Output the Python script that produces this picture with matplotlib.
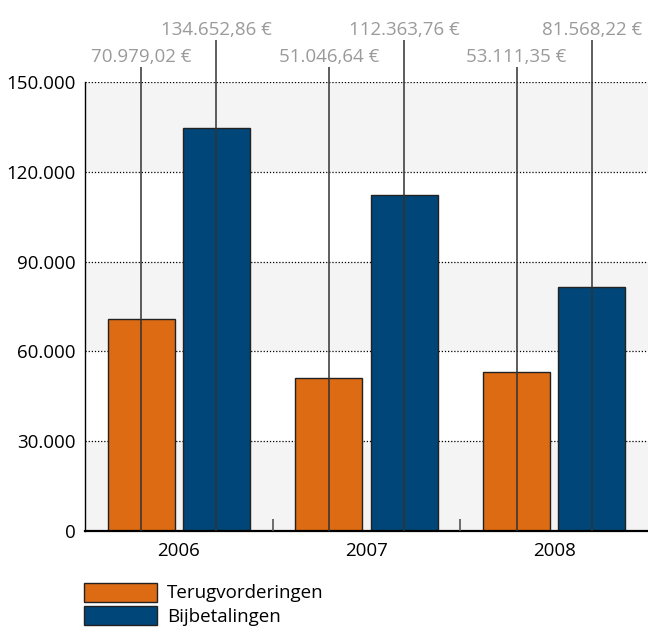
import matplotlib
matplotlib.use("Agg")
import matplotlib.pyplot as plt
from matplotlib.patches import Patch
import numpy as np

years = ["2006", "2007", "2008"]
terug = [70979.02, 51046.64, 53111.35]
bijbet = [134652.86, 112363.76, 81568.22]
series_names = ["Terugvorderingen", "Bijbetalingen"]
yticks = [0, 30000, 60000, 90000, 120000, 150000]

orange = "#dc6b14"
blue = "#004678"
band = "#f4f4f4"
labgray = "#9a9a9a"

plt.rcParams['font.family'] = ['Open Sans', 'DejaVu Sans']
FS = 13.5

def fmt_nl(v, dec=2):
    s = f"{v:,.{dec}f}"
    return s.replace(",", "X").replace(".", ",").replace("X", ".")

fig = plt.figure(figsize=(6.48, 6.30), dpi=100)
ax = fig.add_axes([85/648, 1-531/630, 1-85/648, (531-82)/630])

x = np.arange(len(years))
off = 0.2
w = 0.357
ymax = 150000
ax.set_xlim(-0.5, len(years)-0.5)
ax.set_ylim(0, ymax)

# alternating bands
for i in range(len(yticks)-1):
    if i % 2 == 0:
        ax.axhspan(yticks[i], yticks[i+1], color=band, zorder=0, lw=0)
for t in yticks[1:]:
    ax.axhline(t, color="black", lw=0.9, ls=(0, (1, 1.5)), zorder=1)

ax.bar(x-off, terug, w, color=orange, edgecolor="#222222", lw=1.0, zorder=2)
ax.bar(x+off, bijbet, w, color=blue, edgecolor="#222222", lw=1.0, zorder=2)

top_o = ymax*1.033
top_b = ymax*1.093
ax.vlines(x-off, 0, top_o, colors="#333333", lw=1.3, alpha=0.85, zorder=3, clip_on=False)
ax.vlines(x+off, 0, top_b, colors="#333333", lw=1.3, alpha=0.85, zorder=3, clip_on=False)
for xi, v in zip(x-off, terug):
    ax.text(xi, top_o+ymax*0.003, fmt_nl(v)+" €", ha="center", va="bottom",
            color=labgray, fontsize=FS, clip_on=False)
for xi, v in zip(x+off, bijbet):
    ax.text(xi, top_b+ymax*0.003, fmt_nl(v)+" €", ha="center", va="bottom",
            color=labgray, fontsize=FS, clip_on=False)

ax.set_yticks(yticks)
ax.set_yticklabels([fmt_nl(t, 0) for t in yticks], fontsize=FS)
ax.tick_params(axis="y", length=0, pad=7)
ax.set_xticks(x)
ax.set_xticklabels(years, fontsize=FS)
ax.tick_params(axis="x", which="major", length=0, pad=8)
ax.set_xticks(x[:-1]+0.5, minor=True)
ax.tick_params(axis="x", which="minor", direction="in", length=9, width=1.2, color="#555555")

for s in ["top", "right"]:
    ax.spines[s].set_visible(False)
ax.spines["left"].set_linewidth(1.0)
ax.spines["bottom"].set_linewidth(1.6)
ax.set_axisbelow(False)

handles = [Patch(facecolor=orange, edgecolor="#222222", lw=1.0),
           Patch(facecolor=blue, edgecolor="#222222", lw=1.0)]
fig.legend(handles, series_names, loc="upper left",
           bbox_to_anchor=(76/648, 1-575/630), frameon=False, fontsize=FS,
           handlelength=3.9, handleheight=1.2, labelspacing=0.2, handletextpad=0.55,
           borderaxespad=0)

fig.savefig("out.png", dpi=100)
